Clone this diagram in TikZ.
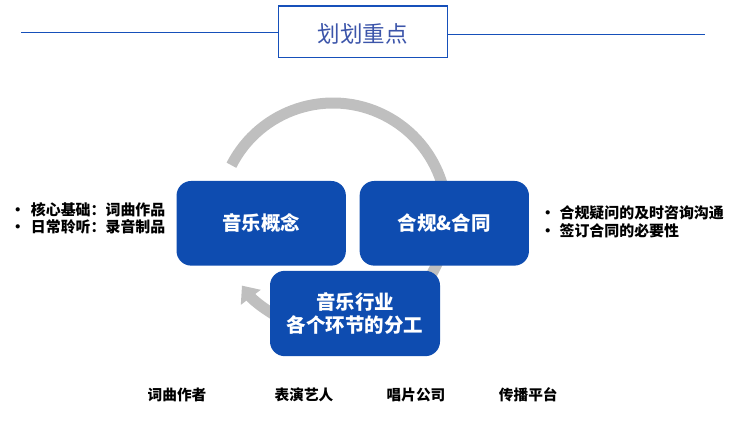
\documentclass[tikz,border=0pt]{standalone}
\usepackage{fontspec}
\setmainfont{Noto Sans CJK SC}
\usetikzlibrary{arrows.meta}
\definecolor{boxblue}{RGB}{14,76,176}
\definecolor{lineblue}{RGB}{22,80,186}
\definecolor{titleblue}{RGB}{60,85,170}
\definecolor{arcgray}{RGB}{191,191,191}
\begin{document}
\begin{tikzpicture}[x=0.75pt,y=-0.75pt,
  box/.style={rectangle, rounded corners=11pt, fill=boxblue, text=white,
    font=\fontsize{14.6}{17.5}\selectfont\bfseries, align=center,
    minimum width=127pt, minimum height=63.5pt, inner sep=0pt},
  side/.style={anchor=west, inner sep=0pt, font=\fontsize{11.2}{13}\selectfont\bfseries},
  lab/.style={inner sep=0pt, font=\fontsize{11}{13}\selectfont\bfseries},
  rule/.style={draw=lineblue, line width=1.2pt},
  ring/.style={draw=arcgray, line width=8.25pt, -{Triangle[width=18pt,length=11pt]}}]
\useasboundingbox (0,0) rectangle (731,425);
% title
\node[rule, minimum width=126.75pt, minimum height=38.5pt, inner sep=0pt,
  text height=17pt, text depth=0.5pt,
  text=titleblue, font=\fontsize{16.9}{20}\selectfont] (title) at (362.8,31.7) {划划重点};
\coordinate (ll) at (21,32.3);
\coordinate (rr) at (705,34.3);
\draw[rule] (ll) -- (title.west |- ll);
\draw[rule] (title.east |- rr) -- (rr);
% ring arrow
\coordinate (ringc) at (333,217);
\draw[ring] (ringc) ++(-153:114) arc[start angle=-153, end angle=143, radius=114];
% boxes
\node[box] (concept) at (261.2,223.3) {音乐概念};
\node[box] (comply) at (444.3,223.3) {合规\&合同};
\node[box, minimum width=127.5pt, minimum height=64pt] (industry) at (355,313.5) {音乐行业\\各个环节的分工};
% side texts
\node[side] (l1) at (10,209.3) {\makebox[15.5pt][l]{•}核心基础：词曲作品};
\node[side] (l2) at (10,226.7) {\makebox[15.5pt][l]{•}日常聆听：录音制品};
\node[side] (r1) at (540,212.3) {\makebox[14.5pt][l]{•}合规疑问的及时咨询沟通};
\node[side] (r2) at (540,230.7) {\makebox[14.5pt][l]{•}签订合同的必要性};
% bottom labels
\node[lab] (b1) at (177,395) {词曲作者};
\node[lab] (b2) at (304,395) {表演艺人};
\node[lab] (b3) at (416,395) {唱片公司};
\node[lab] (b4) at (528.3,395) {传播平台};
\end{tikzpicture}
\end{document}
